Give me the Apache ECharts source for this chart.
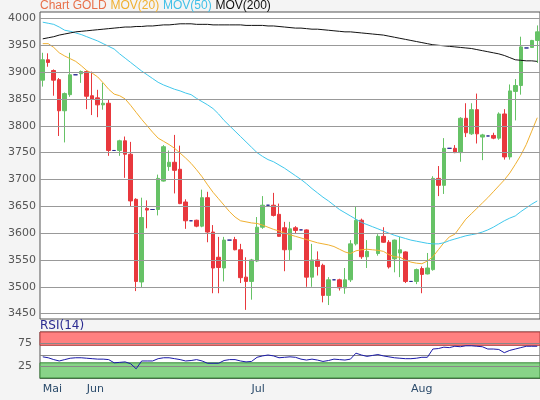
<!DOCTYPE html>
<html><head><meta charset="utf-8">
<script src="https://cdn.jsdelivr.net/npm/echarts@6/dist/echarts.min.js"></script>
<style>html,body{margin:0;padding:0;background:#f4f4f4}#c{width:540px;height:400px}</style>
</head><body><div id="c"></div>
<script>
const monthLabels = {0:'Mai', 8:'Jun', 38:'Jul', 67:'Aug'};
const priceTicks = [3450,3500,3550,3600,3650,3700,3750,3800,3850,3900,3950,4000];
const rsiTicks = [25,50,75];
const open  = [3885,3923,3903,3886,3828,3858,3895,3897,3901,3856,3852,3839,3842,3754,3754,3772,3747,3663,3509,3646,3644,3644,3697,3724,3732,3719,3658,3623,3624,3613,3666,3602,3555,3535,3587,3588,3569,3518,3510,3548,3611,3652,3652,3635,3610,3569,3610,3606,3606,3518,3550,3540,3484,3513,3513,3498,3513,3580,3624,3556,'-',3562,3594,3583,3552,3563,3565,3510,3510,3534,3524,3532,3702,3689,3758,3758,3750,3814,3785,3830,3779,3781,3782,3777,3822,3742,3864,3875,3945,3946,3959];
const close = [3923,3918,3885,3828,3860,3895,3895,3901,3855,3850,3839,3842,3754,3754,3772,3747,3660,3510,3629,3643,3644,3702,3761,3732,3717,3655,3623,3623,3613,3666,3602,3535,3536,3587,3587,3569,3517,3510,3550,3611,3652,3652,3633,3594,3569,3608,3605,3606,3518,3550,3538,3484,3513,3513,3498,3513,3580,3624,3556,3566,'-',3594,3583,3537,3587,3569,3510,3510,3532,3523,3535,3702,3689,3758,3758,3750,3814,3787,3830,3785,3783,3781,3777,3822,3742,3865,3875,3947,3945,3959,3975];
const low   = [3873,3910,3856,3781,3769,3854,3895,3880,3831,3820,3816,3830,3744,3754,3744,3703,3650,3492,3499,3609,3644,3633,3696,3716,3674,3654,3608,3623,3611,3611,3583,3488,3488,3510,3587,3568,3507,3457,3476,3546,3608,3652,3631,3593,3529,3550,3600,3606,3500,3500,3521,3471,3466,3513,3493,3487,3509,3577,3552,3535,'-',3558,3582,3534,3527,3518,3507,3510,3505,3488,3523,3530,3669,3673,3758,3749,3733,3779,3783,3767,3736,3781,3775,3774,3737,3737,3810,3858,3945,3945,3917];
const high  = [3936,3935,3905,3889,3862,3936,3895,3903,3903,3901,3867,3880,3848,3754,3774,3780,3770,3665,3666,3661,3644,3709,3764,3754,3783,3763,3663,3623,3625,3681,3677,3615,3593,3593,3587,3593,3580,3555,3552,3630,3669,3652,3675,3655,3621,3621,3613,3606,3607,3580,3566,3543,3518,3513,3515,3535,3587,3650,3627,3587,'-',3598,3611,3587,3588,3593,3566,3510,3534,3538,3563,3706,3725,3777,3758,3764,3816,3842,3842,3860,3785,3781,3787,3825,3831,3877,3887,3966,3945,3960,3987];
const mov20 = [3953,3953,3946,3936,3930,3925,3920,3912,3903,3898,3891,3880,3868,3859,3856,3850,3838,3825,3812,3800,3788,3777,3771,3765,3758,3749,3740,3730,3718,3705,3690,3676,3664,3652,3640,3630,3623,3621,3619,3618,3615,3611,3607,3604,3600,3597,3594,3591,3588,3585,3582,3580,3578,3575,3570,3565,3562,3567,3569,3570,3569,3568,3566,3560,3556,3555,3550,3546,3544,3543,3548,3556,3569,3582,3593,3598,3612,3626,3636,3646,3656,3666,3677,3688,3699,3712,3728,3745,3765,3790,3815];
const mov50 = [3993,3991,3989,3984,3978,3976,3973,3970,3966,3962,3958,3953,3948,3943,3934,3926,3918,3910,3902,3895,3888,3881,3876,3872,3868,3865,3861,3858,3851,3845,3839,3832,3822,3810,3800,3790,3780,3770,3760,3750,3743,3737,3733,3727,3721,3714,3707,3700,3692,3683,3675,3667,3660,3652,3644,3638,3632,3626,3620,3616,3612,3608,3604,3600,3596,3593,3590,3587,3585,3583,3581,3580,3580,3582,3586,3589,3592,3595,3597,3599,3602,3606,3611,3617,3623,3628,3632,3640,3647,3654,3660];
const mov200 = [3962,3964,3966,3969,3971,3973,3975,3976,3977,3978,3979,3980,3981,3982,3983,3984,3984,3985,3985,3986,3986,3987,3988,3988,3989,3990,3990,3990,3989,3989,3989,3988,3988,3988,3988,3988,3988,3987,3987,3987,3987,3986,3986,3985,3984,3983,3982,3982,3981,3980,3980,3979,3978,3977,3976,3975,3975,3974,3973,3972,3971,3970,3969,3967,3965,3963,3961,3959,3957,3955,3953,3951,3950,3949,3948,3947,3946,3945,3944,3942,3940,3938,3936,3934,3931,3927,3923,3922,3921,3921,3920];
const rsi = [46,44,40,37,40,43,44,44,43,42,41,41,40,33,34,35,31,20,37,37,37,42,44,44,42,40,37,38,40,37,32,32,32,38,40,40,37,35,36,45,48,50,48,44,45,46,45,41,39,41,39,36,38,41,40,39,41,54,50,47,49,51,48,46,44,43,42,42,43,45,45,63,64,67,66,69,68,70,70,69,68,63,63,62,55,60,63,66,69,69,69];

const categories = open.map((_, i) => String(i));
const GREEN = '#66c266', RED = '#e8383d', NAVY = '#2a2a90';
const candles = open.map((o, i) => {
  if (o === '-') return ['-','-','-','-'];
  const v = [o, close[i], low[i], high[i]];
  if (o === close[i] && low[i] === high[i]) return {value: v, itemStyle: {color: NAVY, borderColor: NAVY, color0: NAVY, borderColor0: NAVY}};
  return v;
});
const labelFont = {color: '#555', fontSize: 11, fontFamily: 'DejaVu Sans'};

const chart = echarts.init(document.getElementById('c'));
chart.setOption({
  animation: false,
  backgroundColor: '#f4f4f4',
  graphic: [
    {type: 'text', left: 40, top: 0, style: {text: '{a|Chart GOLD} {b|MOV(20)} {c|MOV(50)} {d|MOV(200)}', font: '12px DejaVu Sans',
      rich: {a: {fill: '#e8704a', fontSize: 12}, b: {fill: '#f0b030', fontSize: 12}, c: {fill: '#40c0e8', fontSize: 12}, d: {fill: '#111', fontSize: 12}}}},
    {type: 'text', left: 40, top: 320, style: {text: 'RSI(14)', fill: NAVY, font: '12px DejaVu Sans'}}
  ],
  grid: [
    {left: 40, top: 12, width: 500, height: 307, show: true, backgroundColor: '#fff', borderColor: '#555', borderWidth: 1},
    {left: 40, top: 332, width: 500, height: 46, show: true, backgroundColor: '#fff', borderColor: '#555', borderWidth: 1}
  ],
  xAxis: [
    {type: 'category', data: categories, gridIndex: 0, boundaryGap: true, axisLine: {show: false}, axisTick: {show: false}, axisLabel: {show: false}, splitLine: {show: false}},
    {type: 'category', data: categories, gridIndex: 1, boundaryGap: true, axisLine: {lineStyle: {color: '#555'}},
      axisTick: {alignWithLabel: true, length: 4, lineStyle: {color: '#555'}, interval: (i) => monthLabels[i] !== undefined},
      axisLabel: {interval: (i) => monthLabels[i] !== undefined, formatter: (v, i) => monthLabels[i] || '', align: 'left', margin: 6, color: '#2a4a6a', fontSize: 11, fontFamily: 'DejaVu Sans'}}
  ],
  yAxis: [
    {type: 'value', gridIndex: 0, min: 3440, max: 4012, axisLine: {show: false}, axisTick: {show: false}, axisLabel: {show: false}, splitLine: {show: false}},
    {type: 'value', gridIndex: 1, min: 0, max: 100, interval: 25, axisLine: {show: false}, axisTick: {show: false},
      axisLabel: Object.assign({formatter: (v) => (v === 25 || v === 75) ? String(v) : ''}, labelFont),
      splitLine: {show: false}}
  ],
  series: [
    {type: 'candlestick', xAxisIndex: 0, yAxisIndex: 0, data: candles, barWidth: 4,
      itemStyle: {color: GREEN, color0: RED, borderColor: GREEN, borderColor0: RED, borderWidth: 1},
      markLine: {silent: true, symbol: 'none', animation: false,
        lineStyle: {color: '#999', type: 'solid', width: 1},
        label: Object.assign({position: 'start', formatter: (p) => String(p.value), distance: 4}, labelFont),
        data: priceTicks.map(v => ({yAxis: v}))}, z: 3},
    {type: 'line', data: mov20, symbol: 'none', lineStyle: {color: '#f0b030', width: 1}, z: 4},
    {type: 'line', data: mov50, symbol: 'none', lineStyle: {color: '#40c8ec', width: 1}, z: 4},
    {type: 'line', data: mov200, symbol: 'none', lineStyle: {color: '#111', width: 1}, z: 4},
    {type: 'line', xAxisIndex: 1, yAxisIndex: 1, data: rsi, symbol: 'none', lineStyle: {color: '#1a1aa8', width: 1}, z: 5,
      markArea: {silent: true, data: [
        [{yAxis: 71, itemStyle: {color: '#ff8080', borderColor: '#b04040', borderWidth: 1}}, {yAxis: 100}],
        [{yAxis: 0, itemStyle: {color: '#88d488', borderColor: '#3a8a3a', borderWidth: 1}}, {yAxis: 33}]
      ]},
      markLine: {silent: true, symbol: 'none', label: {show: false}, lineStyle: {color: '#888', type: 'solid', width: 1},
        data: rsiTicks.map(v => ({yAxis: v}))}}
  ]
});
</script></body></html>
